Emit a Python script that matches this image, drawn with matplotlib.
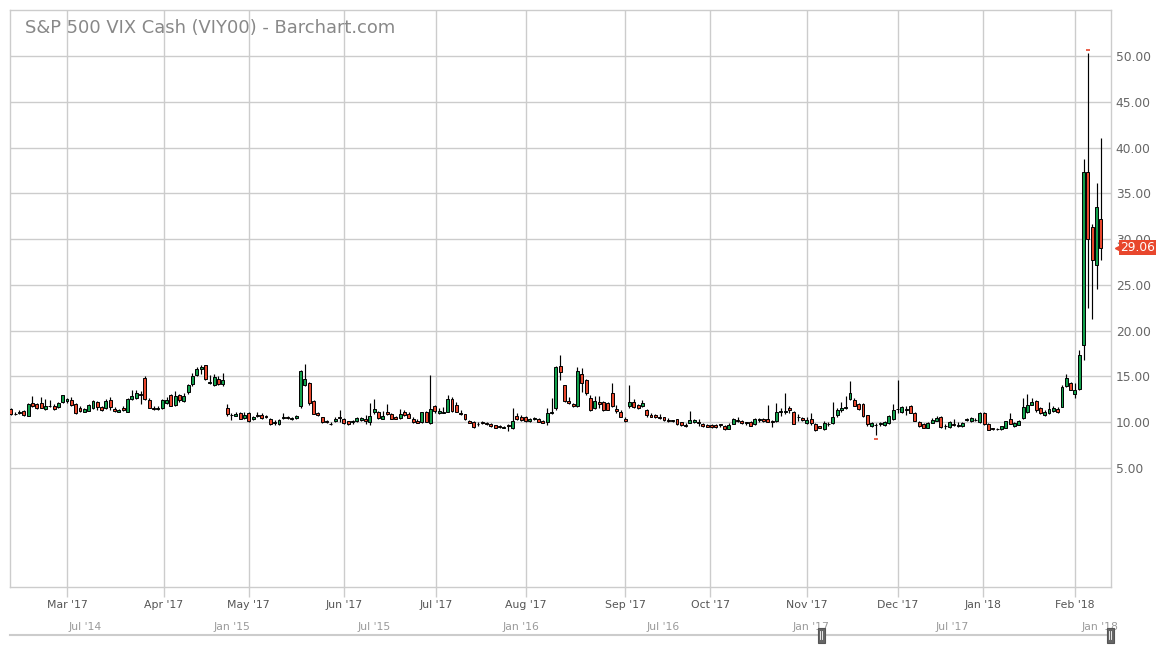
import numpy as np
import pandas as pd
import matplotlib
matplotlib.use("Agg")
import matplotlib.pyplot as plt
import matplotlib.dates as mdates
from matplotlib.patches import Rectangle
from matplotlib.lines import Line2D

# ---------------- data ----------------
title = "S&P 500 VIX Cash (VIY00) - Barchart.com"
holidays = ['2017-02-20', '2017-04-14', '2017-05-29', '2017-07-04', '2017-09-04',
            '2017-11-23', '2017-12-25', '2018-01-01', '2018-01-15']
dates = pd.bdate_range('2017-02-09', '2018-02-09', freq='C', holidays=holidays)

opens = [
    # Feb 2017
    11.45, 10.90, 10.95, 11.25, 10.70, 12.05, 11.95, 12.10, 11.40, 11.70, 11.75, 11.60, 12.15,
    # Mar
    12.25, 12.40, 11.95, 11.55, 11.15, 11.25, 11.55, 12.15, 11.60, 11.50, 12.40, 11.45, 11.15,
    11.50, 11.10, 12.50, 12.60, 13.10, 14.80, 12.45, 11.50, 11.40, 11.50,
    # Apr
    12.05, 12.90, 11.90, 12.95, 12.35, 13.30, 14.20, 15.10, 15.80, 16.20, 14.30, 14.10, 14.65,
    14.20, 11.55, 10.80, 10.70, 10.95, 10.45,
    # May
    10.95, 10.30, 10.75, 10.75, 10.70, 10.35, 9.90, 9.75, 10.45, 10.55, 10.35, 10.45, 11.75,
    14.00, 14.25, 12.30, 11.00, 10.50, 10.15, 9.78, 10.10, 10.50,
    # Jun
    10.35, 10.10, 10.00, 10.10, 10.20, 10.30, 9.95, 11.15, 11.15, 10.35, 11.15, 10.85, 10.60,
    10.40, 11.15, 10.85, 10.35, 10.10, 9.95, 11.15, 9.85, 11.75,
    # Jul
    11.00, 11.00, 11.15, 12.50, 11.90, 11.00, 10.85, 10.10, 10.05, 9.75, 9.95, 9.85, 9.75,
    9.65, 9.55, 9.35, 9.70, 9.30, 10.70, 10.60,
    # Aug
    10.55, 10.15, 10.35, 10.35, 10.15, 9.95, 10.95, 11.50, 16.10, 14.00, 12.25, 12.00, 11.70,
    15.30, 14.60, 12.60, 11.50, 12.20, 12.20, 12.10, 13.20, 11.45, 11.15,
    # Sep
    10.35, 11.70, 12.20, 11.90, 11.75, 11.30, 10.80, 10.75, 10.60, 10.55, 10.20, 10.15, 10.30,
    9.95, 9.70, 9.90, 9.95, 10.00, 9.80, 9.70,
    # Oct
    9.70, 9.70, 9.75, 9.60, 9.25, 9.80, 10.20, 10.10, 9.90, 10.05, 9.75, 10.20, 10.35,
    10.35, 10.10, 10.10, 11.05, 11.10, 11.55, 11.10, 10.55, 10.40,
    # Nov
    9.85, 10.30, 9.80, 9.55, 9.20, 9.80, 9.85, 10.75, 11.30, 11.55, 12.50, 12.40, 11.95,
    12.00, 10.75, 9.60, 9.70, 9.80, 9.70, 9.85, 10.30,
    # Dec
    11.40, 11.05, 11.35, 11.70, 10.95, 10.00, 9.75, 9.35, 9.90, 10.15, 10.60, 9.55, 9.45,
    9.80, 9.60, 9.55, 10.25, 10.15, 10.25, 9.95,
    # Jan 2018
    10.95, 9.80, 9.30, 9.25, 9.25, 9.40, 10.30, 9.60, 9.70, 10.40, 11.10, 11.90, 12.33,
    11.56, 10.75, 10.95, 11.20, 11.40, 11.65, 13.93, 14.30,
    # Feb 2018
    13.10, 13.60, 18.44, 37.32, 31.35, 27.20, 32.15,
]
highs = [
    11.55, 11.05, 11.30, 11.30, 12.05, 12.84, 12.10, 12.75, 12.50, 12.40, 11.95, 12.20, 13.00,
    12.60, 12.75, 12.10, 11.70, 11.55, 11.95, 12.45, 12.30, 11.80, 12.50, 12.70, 11.60, 11.40,
    11.70, 12.60, 13.50, 13.45, 13.40, 15.04, 12.60, 11.75, 11.70, 12.55,
    12.75, 13.10, 13.40, 13.10, 13.20, 14.20, 15.40, 16.05, 16.22, 16.28, 15.10, 15.20, 15.00,
    15.35, 12.00, 11.00, 11.10, 11.15, 11.15,
    11.15, 10.70, 11.10, 10.95, 10.80, 10.45, 10.25, 10.35, 11.00, 10.70, 10.60, 10.75, 15.65,
    16.30, 14.40, 12.40, 11.05, 10.55, 10.20, 10.00, 10.60, 11.30,
    10.45, 10.15, 10.25, 10.60, 10.60, 10.75, 12.05, 12.50, 11.25, 11.25, 11.95, 10.95, 10.65,
    11.40, 11.35, 11.10, 10.60, 10.35, 11.15, 11.20, 15.16, 11.90,
    11.50, 11.60, 12.90, 12.70, 12.20, 11.35, 10.90, 10.20, 10.10, 10.05, 10.10, 10.00, 9.85,
    9.70, 9.70, 9.55, 9.80, 11.50, 11.00, 10.75,
    10.65, 10.45, 10.60, 10.45, 10.25, 11.50, 12.60, 16.10, 17.28, 14.10, 12.75, 12.10, 16.04,
    15.90, 14.70, 12.90, 12.80, 12.80, 12.30, 12.20, 14.30, 11.90, 11.30,
    10.50, 14.04, 12.50, 12.00, 12.45, 11.40, 10.95, 10.85, 10.85, 10.60, 10.40, 10.25, 10.35,
    10.00, 9.85, 11.20, 10.35, 10.30, 9.85, 9.75,
    9.75, 9.80, 9.80, 9.70, 9.90, 10.40, 10.60, 10.20, 10.05, 10.10, 10.45, 10.45, 10.40,
    11.85, 10.20, 12.10, 11.50, 13.20, 11.80, 11.20, 10.85, 10.50,
    10.60, 11.00, 9.85, 9.60, 10.15, 10.05, 12.20, 11.50, 12.20, 12.80, 14.51, 12.60, 12.10,
    12.10, 10.80, 9.95, 9.85, 9.95, 10.10, 10.80, 12.00,
    14.58, 11.80, 11.70, 11.85, 11.10, 10.10, 9.85, 10.05, 10.40, 10.70, 10.70, 9.80, 10.15,
    10.30, 10.05, 9.95, 10.40, 10.55, 10.45, 11.10,
    11.05, 9.85, 9.40, 9.35, 9.60, 10.15, 11.00, 9.95, 10.20, 12.65, 13.10, 12.65, 12.45,
    11.65, 11.35, 12.20, 11.80, 11.60, 14.00, 15.30, 14.40,
    14.30, 17.90, 38.80, 50.30, 31.64, 36.17, 41.06,
]
lows = [
    10.80, 10.75, 10.90, 10.65, 10.65, 11.60, 11.40, 11.50, 11.30, 11.60, 11.35, 11.50, 12.05,
    12.05, 11.70, 10.90, 11.05, 11.10, 11.20, 11.45, 11.35, 11.25, 11.45, 11.30, 11.05, 11.10,
    11.20, 11.05, 12.40, 12.55, 11.95, 12.45, 11.50, 11.30, 11.30, 11.45,
    11.95, 11.75, 11.80, 12.20, 12.20, 13.10, 13.90, 15.00, 15.30, 14.60, 14.20, 13.90, 14.00,
    13.90, 10.70, 10.20, 10.65, 10.30, 10.30,
    10.05, 10.20, 10.55, 10.35, 10.40, 9.70, 9.65, 9.70, 10.35, 10.30, 10.25, 10.35, 11.55,
    13.90, 11.90, 10.85, 10.65, 9.90, 9.85, 9.70, 10.00, 9.95,
    9.80, 9.65, 9.75, 10.00, 10.15, 9.80, 9.65, 10.90, 10.35, 10.30, 10.80, 10.35, 10.30,
    10.35, 10.65, 10.40, 9.90, 9.85, 9.85, 9.95, 9.75, 10.95,
    10.90, 10.95, 11.10, 11.15, 11.05, 10.80, 10.25, 9.85, 9.37, 9.60, 9.75, 9.65, 9.50,
    9.30, 9.35, 9.30, 9.05, 9.25, 10.20, 10.15,
    10.00, 10.05, 10.25, 9.95, 9.85, 9.70, 10.90, 11.30, 14.60, 12.20, 11.95, 11.60, 11.60,
    13.30, 13.00, 11.25, 11.40, 11.50, 11.20, 11.30, 11.60, 11.00, 10.50,
    10.05, 11.50, 11.50, 11.40, 11.60, 10.60, 10.50, 10.45, 10.35, 10.10, 10.05, 9.95, 9.70,
    9.60, 9.45, 9.85, 9.90, 9.55, 9.50, 9.45,
    9.40, 9.30, 9.45, 9.15, 9.20, 9.75, 10.00, 9.80, 9.70, 9.55, 9.70, 10.05, 9.95,
    9.95, 9.45, 10.05, 10.70, 10.90, 10.95, 9.75, 10.15, 10.10,
    9.75, 9.70, 9.05, 9.30, 9.10, 9.60, 9.80, 10.60, 11.10, 11.40, 12.40, 11.70, 11.30,
    10.60, 9.55, 9.50, 8.56, 9.60, 9.60, 9.80, 10.25,
    11.00, 10.95, 10.75, 10.95, 10.10, 9.50, 9.30, 9.30, 9.85, 10.10, 9.40, 9.25, 9.40,
    9.55, 9.50, 9.50, 10.10, 10.05, 10.10, 9.90,
    9.70, 9.10, 9.10, 9.10, 9.15, 9.35, 9.75, 9.50, 9.65, 10.30, 11.00, 11.85, 11.10,
    10.90, 10.70, 10.90, 11.10, 11.00, 11.60, 13.80, 13.45,
    12.65, 13.50, 16.80, 22.42, 21.26, 24.50, 27.73,
]
closes = [
    10.88, 10.85, 11.07, 10.74, 11.97, 11.76, 11.49, 11.57, 11.74, 11.71, 11.47, 12.09, 12.92,
    12.54, 11.81, 10.96, 11.24, 11.45, 11.86, 12.30, 11.66, 11.35, 12.30, 11.63, 11.21, 11.28,
    11.34, 12.47, 12.81, 13.12, 12.96, 12.50, 11.53, 11.42, 11.54, 12.37,
    12.38, 11.79, 12.89, 12.39, 12.87, 14.05, 15.07, 15.77, 15.96, 14.66, 14.42, 14.93, 14.15,
    14.63, 10.84, 10.76, 10.85, 10.36, 10.82,
    10.11, 10.59, 10.68, 10.46, 10.57, 9.77, 9.96, 10.21, 10.60, 10.40, 10.42, 10.65, 15.59,
    14.66, 12.04, 10.93, 10.72, 9.99, 9.99, 9.81, 10.38, 10.41,
    9.89, 9.75, 10.07, 10.45, 10.39, 10.16, 10.70, 11.40, 10.42, 10.64, 10.90, 10.38, 10.37,
    10.86, 10.75, 10.48, 10.02, 9.90, 11.06, 10.03, 11.44, 11.18,
    11.22, 11.07, 12.54, 11.19, 11.11, 10.89, 10.30, 9.90, 9.51, 9.82, 9.89, 9.79, 9.58,
    9.36, 9.43, 9.43, 9.60, 10.11, 10.29, 10.26,
    10.09, 10.28, 10.44, 10.03, 9.93, 10.96, 11.11, 16.04, 15.51, 12.33, 12.04, 11.74, 15.55,
    14.26, 13.19, 11.35, 12.25, 12.00, 11.28, 11.32, 11.70, 11.22, 10.59,
    10.13, 12.23, 11.63, 11.55, 12.12, 10.73, 10.58, 10.50, 10.44, 10.17, 10.15, 10.18, 9.78,
    9.67, 9.59, 10.21, 10.17, 9.87, 9.55, 9.51,
    9.45, 9.51, 9.63, 9.19, 9.65, 10.33, 10.08, 9.85, 9.91, 9.61, 10.31, 10.31, 10.07,
    10.05, 9.97, 11.07, 11.16, 11.23, 11.30, 9.80, 10.50, 10.18,
    10.20, 9.93, 9.14, 9.40, 9.89, 9.78, 10.50, 11.29, 11.50, 11.59, 13.13, 11.76, 11.43,
    10.65, 9.73, 9.88, 9.67, 9.87, 10.03, 10.70, 11.28,
    11.43, 11.68, 11.33, 11.02, 10.16, 9.58, 9.34, 9.92, 10.18, 10.49, 9.42, 9.53, 10.03,
    9.72, 9.62, 9.90, 10.25, 10.47, 10.18, 11.04,
    9.77, 9.15, 9.22, 9.22, 9.52, 10.08, 9.82, 9.88, 10.16, 11.66, 11.91, 12.22, 11.27,
    11.03, 11.10, 11.47, 11.58, 11.08, 13.84, 14.79, 13.54,
    13.47, 17.31, 37.32, 29.98, 27.73, 33.46, 29.06,
]
y_ticks = [5, 10, 15, 20, 25, 30, 35, 40, 45, 50]
nav_start, nav_end = '2014-04-21', '2018-02-09'

# ---------------- styles ----------------
W, H = 1156, 650
GREEN = '#12a04c'
RED = '#e8472d'
GRID = '#cccccc'

o = np.array(opens); h = np.array(highs); l = np.array(lows); c = np.array(closes)
x = np.arange(len(dates))

fig = plt.figure(figsize=(W / 100, H / 100), dpi=100)
ax = fig.add_axes([10 / W, 1 - 587 / H, 1101 / W, 577 / H])

# candles
ax.vlines(x, l, h, color='black', lw=0.85, zorder=3)
up = c >= o
ax.bar(x, np.maximum(np.abs(c - o), 0.05), bottom=np.minimum(o, c), width=0.68,
       color=np.where(up, GREEN, RED), edgecolor='black', linewidth=0.7, zorder=4)

# high / low markers
imax = int(np.argmax(h)); imin = int(np.argmin(l))
ax.plot(imax, h[imax] + 0.4, marker='_', color=RED, ms=2.5, mew=1.2, zorder=5)
ax.plot(imin, l[imin] - 0.4, marker='_', color=RED, ms=2.5, mew=1.2, zorder=5)

# axes limits
ax.set_xlim(-0.18, 254.33)
ax.set_ylim(-8.03, 55.03)

# month ticks positioned on the trading-day axis
month_starts = pd.date_range('2017-03-01', '2018-02-01', freq='MS')
pos = []
for d in month_starts:
    n = int(np.searchsorted(dates.values, np.datetime64(d)))
    if dates[n] == d:
        pos.append(float(n))
    else:
        gap = (dates[n] - dates[n - 1]).days
        pos.append(n - 1 + (d - dates[n - 1]).days / gap)
ax.set_xticks(pos)
ax.set_xticklabels([d.strftime("%b '%y") for d in month_starts])
ax.tick_params(axis='x', length=7.3, width=1, color=GRID, pad=2, labelsize=7.8,
               labelcolor='#555555')

ax.yaxis.tick_right()
ax.set_yticks(y_ticks)
ax.set_yticklabels([f'{v:.2f}' for v in y_ticks])
ax.tick_params(axis='y', length=0, pad=3.5, labelsize=8.8, labelcolor='#666666')

ax.grid(True, color=GRID, lw=1, zorder=0)
ax.set_axisbelow(True)
for s in ax.spines.values():
    s.set_color(GRID)
    s.set_linewidth(1)

# title
ax.text(15 / 1101, 1 - 18 / 577, title, transform=ax.transAxes, ha='left', va='center',
        fontsize=12.9, color='#888888')

# last price label
ax.annotate(f'{c[-1]:.2f}', xy=(1, c[-1]), xycoords=('axes fraction', 'data'),
            xytext=(9, 0), textcoords='offset pixels', ha='left', va='center',
            fontsize=8.8, color='white', zorder=10, annotation_clip=False,
            bbox=dict(boxstyle='square,pad=0.1', fc=RED, ec='none'))
ax.plot([1.0055], [c[-1]], transform=ax.get_yaxis_transform(), marker='<', color=RED,
        ms=3, clip_on=False, zorder=10)

# ---------------- navigator ----------------
nav = fig.add_axes([10 / W, 1 - 635 / H, 1100 / W, 20 / H])
nav.set_axis_off()
nav.set_xlim(mdates.date2num(pd.Timestamp(nav_start)), mdates.date2num(pd.Timestamp(nav_end)))
nav.set_ylim(0, 1)
nav.plot([0, 1], [0, 0], transform=nav.transAxes, color=GRID, lw=1.5, clip_on=False)
for d in pd.date_range('2014-07-01', '2018-01-01', freq='6MS'):
    nav.annotate(d.strftime("%b '%y"), xy=(mdates.date2num(d), 0.4), xytext=(2, 0),
                 textcoords='offset pixels', ha='left', va='center', fontsize=7.8,
                 color='#9a9a9a')
for d in (dates[0], dates[-1]):
    px, py = nav.transData.transform((mdates.date2num(d), 0))
    fig.add_artist(Rectangle((px - 3.5, py - 7.5), 7, 15, transform=None,
                             fc='#666666', ec='#555555', lw=0.8, zorder=20))
    for dx in (-1, 1):
        fig.add_artist(Line2D([px + dx, px + dx], [py - 4, py + 4], transform=None,
                              color='white', lw=0.6, zorder=21))

fig.savefig('out.png', dpi=100)
